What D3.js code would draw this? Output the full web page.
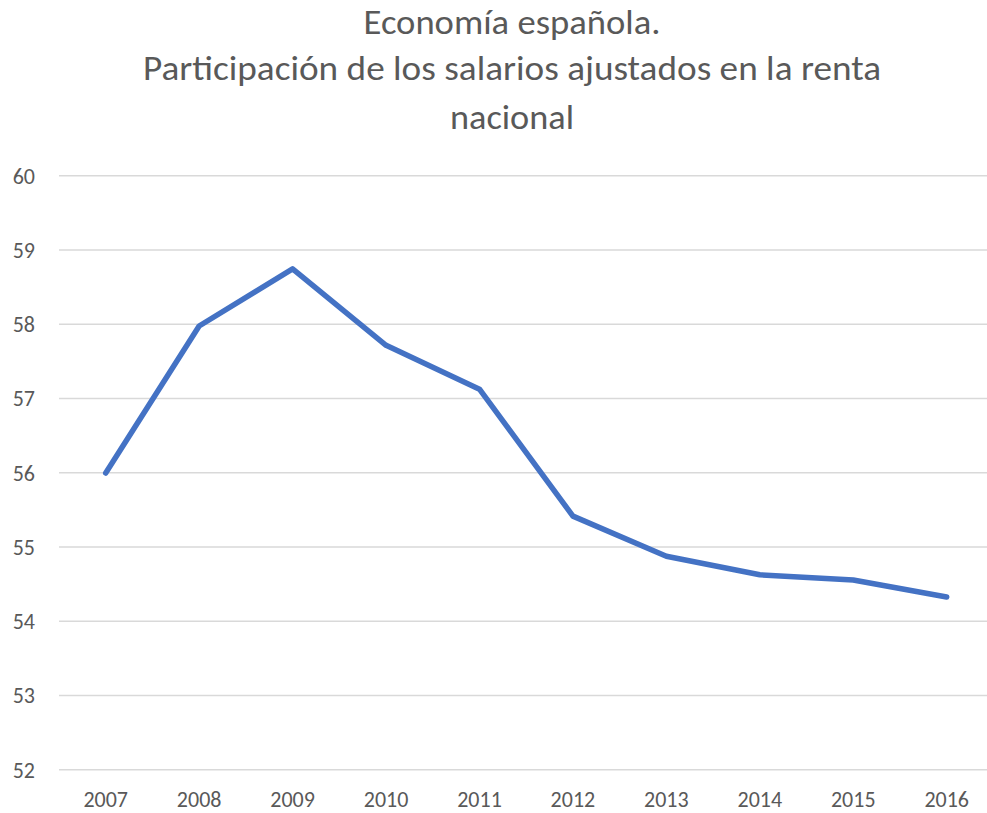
<!DOCTYPE html>
<html>
<head>
<meta charset="utf-8">
<script src="https://cdn.jsdelivr.net/npm/d3@7"></script>
<style>
  html, body { margin: 0; padding: 0; background: #ffffff; }
  svg { display: block; }
  text { font-family: Carlito, Calibri, "Open Sans", "Noto Sans", sans-serif; fill: #595959; }
</style>
</head>
<body>
<svg id="chart" width="987" height="813"></svg>
<script>
const titleLines = ["Economía española.", "Participación de los salarios ajustados en la renta", "nacional"];
const years = ["2007","2008","2009","2010","2011","2012","2013","2014","2015","2016"];
const values = [55.99, 57.97, 58.74, 57.71, 57.12, 55.41, 54.87, 54.62, 54.55, 54.32];
const yTicks = [52, 53, 54, 55, 56, 57, 58, 59, 60];

(function () {
const svg = d3.select("#chart");
const W = 987, H = 813;
const mLeft = 59, mRight = 993.4, mTop = 175.3, mBottom = 769.3;

const x = d3.scaleBand().domain(years).range([mLeft, mRight]).paddingInner(0).paddingOuter(0);
const y = d3.scaleLinear().domain([52, 60]).range([mBottom, mTop]);

// title
const titleW = [297, 738, 124];
const titleY = [34, 80, 129];
svg.append("g").selectAll("text").data(titleLines).join("text")
  .attr("x", 512)
  .attr("y", (d, i) => titleY[i])
  .attr("text-anchor", "middle")
  .attr("font-size", 34)
  .attr("font-weight", 400)
  .attr("textLength", (d, i) => titleW[i])
  .attr("lengthAdjust", "spacingAndGlyphs")
  .text(d => d);

// gridlines + y labels
const yAxis = d3.axisLeft(y).tickValues(yTicks).tickSize(-(W - mLeft)).tickPadding(24).tickFormat(d3.format("d"));
const gy = svg.append("g").attr("transform", `translate(${mLeft},0)`).call(yAxis);
gy.select(".domain").remove();
gy.selectAll(".tick line").attr("stroke", "#d9d9d9").attr("stroke-width", 1.5);
gy.selectAll(".tick text").attr("font-size", 22).attr("fill", "#595959")
  .attr("text-anchor", "end").attr("x", -24).attr("dy", "0.35em");

// x axis labels
const xAxis = d3.axisBottom(x).tickSize(0).tickPadding(22);
const gx = svg.append("g").attr("transform", `translate(0,${mBottom})`).call(xAxis);
gx.select(".domain").remove();
gx.selectAll(".tick text").attr("font-size", 22).attr("fill", "#595959");

// line
const line = d3.line()
  .x((d, i) => x(years[i]) + x.bandwidth() / 2)
  .y(d => y(d));
svg.append("path")
  .datum(values)
  .attr("fill", "none")
  .attr("stroke", "#4472c4")
  .attr("stroke-width", 5.5)
  .attr("stroke-linejoin", "round")
  .attr("stroke-linecap", "round")
  .attr("d", line);
})();
</script>
</body>
</html>
